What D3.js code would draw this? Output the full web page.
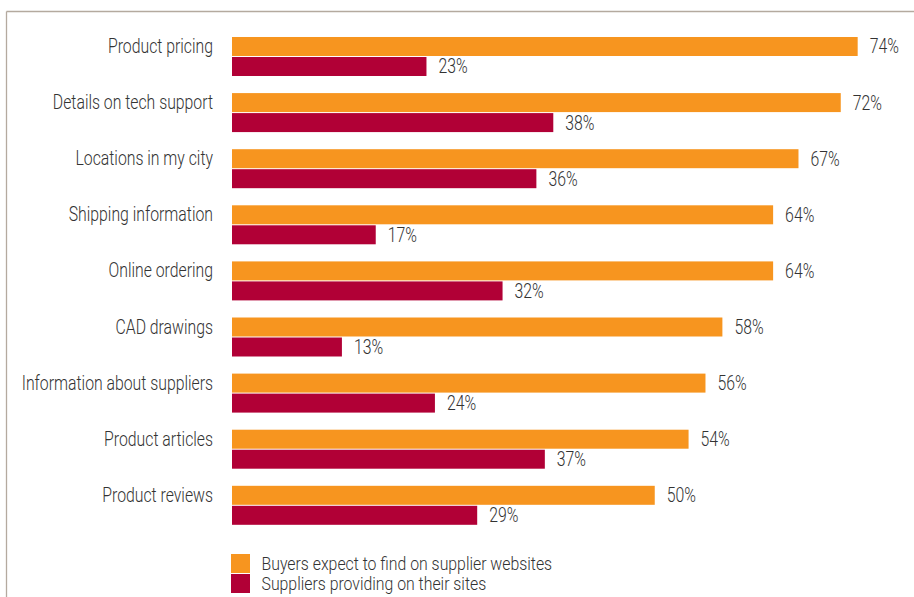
<!DOCTYPE html>
<html>
<head>
<meta charset="utf-8">
<script src="https://cdn.jsdelivr.net/npm/d3@7"></script>
<style>
  html, body { margin: 0; padding: 0; background: #fff; }
  svg text { font-family: "Roboto", "Liberation Sans", sans-serif; font-weight: 300; fill: #333333; }
</style>
</head>
<body>
<svg id="chart" width="914" height="597"></svg>
<script>
// Website content: what buyers expect vs. what suppliers provide (%)
const categories = [
  "Product pricing",
  "Details on tech support",
  "Locations in my city",
  "Shipping information",
  "Online ordering",
  "CAD drawings",
  "Information about suppliers",
  "Product articles",
  "Product reviews"
];
const buyersExpect = [74, 72, 67, 64, 64, 58, 56, 54, 50];
const suppliersProvide = [23, 38, 36, 17, 32, 13, 24, 37, 29];
const seriesNames = [
  "Buyers expect to find on supplier websites",
  "Suppliers providing on their sites"
];
const seriesColors = ["#f7951f", "#b10036"];

const svg = d3.select("#chart");
const W = 914, H = 597;

// frame: top rule and left rule
svg.append("line").attr("x1", 6.5).attr("x2", W).attr("y1", 11.5).attr("y2", 11.5)
  .attr("stroke", "#b4aa9f").attr("stroke-width", 1.3);
svg.append("line").attr("x1", 6.5).attr("x2", 6.5).attr("y1", 11.5).attr("y2", H)
  .attr("stroke", "#b4aa9f").attr("stroke-width", 1.3);

const x0 = 232;
const x = d3.scaleLinear().domain([0, 100]).range([x0, x0 + 845.5]);

const y = d3.scaleBand().domain(categories).range([37, 524.8])
  .paddingInner(0.305).paddingOuter(0);
const ySub = d3.scaleBand().domain([0, 1]).range([0, y.bandwidth()]).paddingInner(0.05);

const fontSize = 20;
const squeeze = 0.79;

const rows = categories.map((c, i) => ({ cat: c, vals: [buyersExpect[i], suppliersProvide[i]] }));

const g = svg.append("g");
const row = g.selectAll("g.row").data(rows).join("g")
  .attr("class", "row")
  .attr("transform", d => `translate(0,${y(d.cat)})`);

// category labels
row.append("text")
  .attr("transform", d => `translate(213,${ySub(0) + ySub.bandwidth() / 2 + 6.5}) scale(${squeeze},1)`)
  .attr("text-anchor", "end")
  .attr("font-size", fontSize)
  .text(d => d.cat);

// bars
row.selectAll("rect").data(d => d.vals).join("rect")
  .attr("x", x(0))
  .attr("y", (v, j) => ySub(j))
  .attr("width", v => x(v) - x(0))
  .attr("height", ySub.bandwidth())
  .attr("fill", (v, j) => seriesColors[j]);

// value labels
row.selectAll("text.val").data(d => d.vals).join("text")
  .attr("class", "val")
  .attr("transform", (v, j) => `translate(${x(v) + 12},${ySub(j) + ySub.bandwidth() / 2 + 7}) scale(${squeeze},1)`)
  .attr("font-size", fontSize)
  .text(v => v + "%");

// legend: two tightly stacked swatches with labels
const legend = svg.append("g").attr("transform", "translate(231,554)");
const li = legend.selectAll("g").data(seriesNames).join("g")
  .attr("transform", (d, i) => `translate(0,${i * 20})`);
li.append("rect").attr("width", 19).attr("height", 19)
  .attr("fill", (d, i) => seriesColors[i]);
li.append("text")
  .attr("transform", `translate(30.5,15.5) scale(0.88,1)`)
  .attr("font-size", 18)
  .text(d => d);
</script>
</body>
</html>
